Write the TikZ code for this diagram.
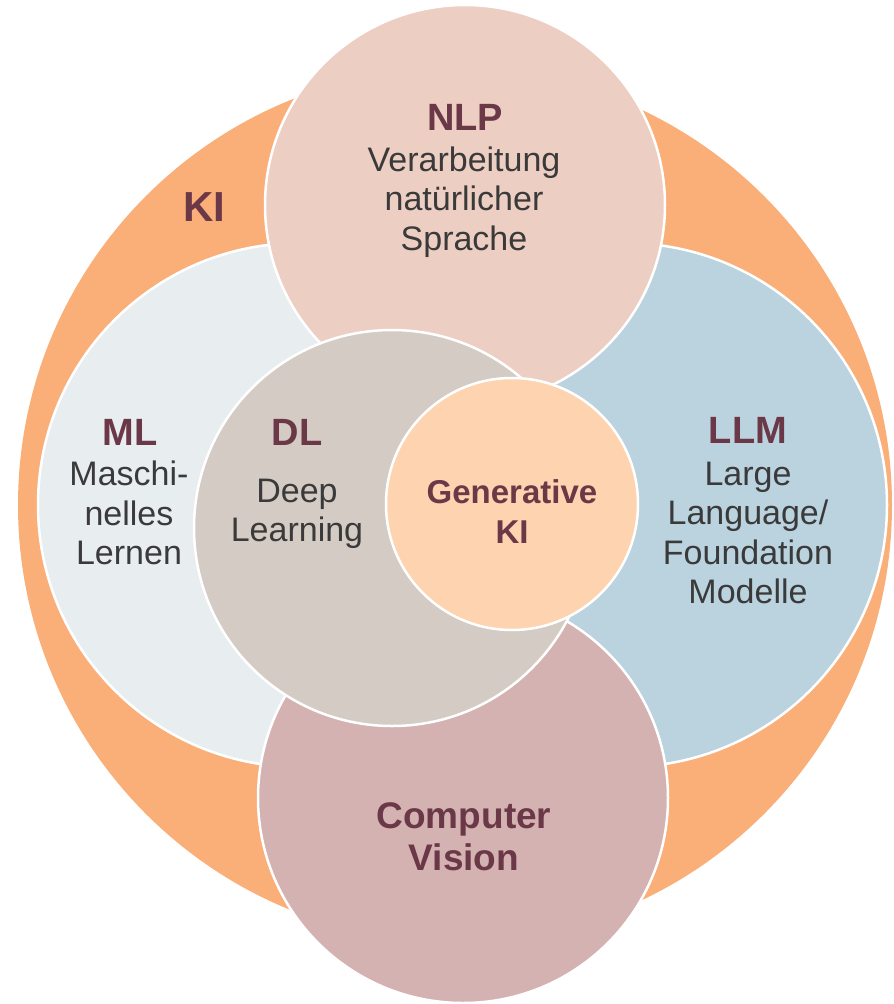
\documentclass[tikz,border=0pt]{standalone}
\usepackage{fontspec}
\setmainfont{Liberation Sans}
\definecolor{kiorange}{HTML}{FAAE78}
\definecolor{nlpc}{HTML}{EDCEC3}
\definecolor{mlc}{HTML}{E8EDF0}
\definecolor{llmc}{HTML}{BBD3DF}
\definecolor{dlc}{HTML}{D4CBC5}
\definecolor{genc}{HTML}{FDD3B0}
\definecolor{cvc}{HTML}{D4B2B2}
\definecolor{titlec}{HTML}{6B3848}
\definecolor{bodyc}{HTML}{3A3A3A}
\begin{document}
\begin{tikzpicture}[x=1pt,y=-1pt,
  blob/.style={circle, draw=white, line width=2.5pt, inner sep=0pt},
  ttl/.style={font=\fontsize{38}{44}\selectfont\bfseries, text=titlec, inner sep=0pt},
  body/.style={font=\fontsize{34}{39.5}\selectfont, text=bodyc, align=center, inner sep=0pt},
  gen/.style={font=\fontsize{33}{40}\selectfont\bfseries, text=titlec, align=center, inner sep=0pt}]
\useasboundingbox (0,0) rectangle (894,1004);
\node[blob, draw=none, fill=kiorange, minimum size=874pt] (ki) at (455,505) {};
\node[blob, fill=mlc, minimum size=524pt] (ml) at (300,505) {};
\node[blob, fill=llmc, minimum size=524pt] (llm) at (625,505) {};
\node[blob, fill=nlpc, minimum size=400pt] (nlp) at (465,205) {};
\node[blob, fill=cvc, minimum size=410pt] (cv) at (463,798) {};
\node[blob, fill=dlc, minimum size=396pt] (dl) at (392,528) {};
\node[blob, fill=genc, minimum size=252pt] (gk) at (512,504) {};
% labels
\node[ttl, font=\fontsize{42}{48}\selectfont\bfseries] (kit) at (204,207) {KI};
\node[ttl] (nlpt) at (465,117) {NLP};
\node[body] (nlpb) at (464,202) {Verarbeitung\\natürlicher\\Sprache};
\node[ttl] (mlt) at (130,432) {ML};
\node[body] (mlb) at (129,513) {Maschi-\\nelles\\Lernen};
\node[ttl] (dlt) at (297,432) {DL};
\node[body] (dlb) at (297,514) {Deep\\Learning};
\node[gen] (gkt) at (512,512) {Generative\\KI};
\node[ttl] (llmt) at (748,430) {LLM};
\node[body] (llmb) at (748,533) {Large\\Language/\\Foundation\\Modelle};
\node[ttl, align=center, font=\fontsize{37}{42}\selectfont\bfseries] (cvt) at (464,837) {Computer\\Vision};
\end{tikzpicture}
\end{document}
